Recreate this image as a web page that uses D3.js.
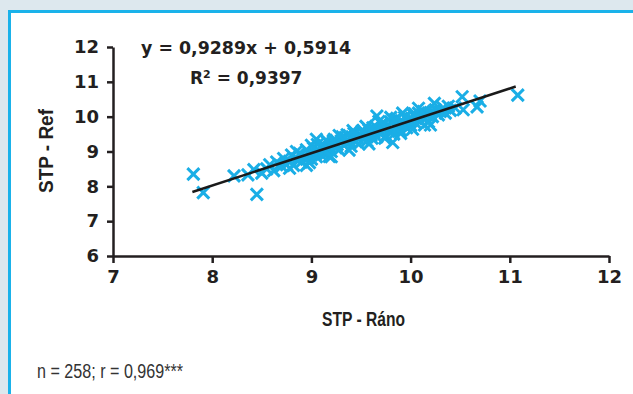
<!DOCTYPE html>
<html>
<head>
<meta charset="utf-8">
<script src="https://cdn.jsdelivr.net/npm/d3@7"></script>
<style>
  html, body { margin: 0; padding: 0; background: #dde8ee; }
  svg { display: block; }
</style>
</head>
<body>
<div id="app"></div>
<script>
// STP - Ráno (x) vs STP - Ref (y)
const ranoValues = [
  7.81, 7.91, 8.22, 8.36, 8.45, 8.42, 8.50,
  8.55, 8.58, 8.62, 8.65, 8.70, 8.72, 8.75, 8.78, 8.80, 8.82, 8.85, 8.88, 8.90, 8.92,
  8.95, 8.96, 8.98, 9.00, 9.02, 9.03, 9.05, 9.06, 9.08, 9.10, 9.11, 9.13, 9.15, 9.16,
  9.18, 9.20, 9.21, 9.23, 9.25, 9.26, 9.28, 9.30, 9.31, 9.33, 9.35, 9.36, 9.38, 9.40,
  9.41, 9.43, 9.45, 9.46, 9.48, 9.50, 9.51, 9.53, 9.55, 9.56, 9.58, 9.60, 9.61, 9.63,
  9.65, 9.66, 9.68, 9.70, 9.71, 9.73, 9.75, 9.76, 9.78, 9.80, 9.81, 9.83, 9.85, 9.86,
  9.88, 9.90, 9.91, 9.93, 9.95, 9.96, 9.98, 10.00, 10.01, 10.03, 10.05, 10.06, 10.08,
  10.10, 10.11, 10.13, 10.15, 10.16, 10.18, 10.20, 10.22, 10.25, 10.28, 10.30, 10.33,
  10.35, 10.38, 10.40, 10.45,
  9.12, 9.22, 9.34, 9.44, 9.52, 9.62, 9.72, 9.84, 9.94, 10.04,
  8.85, 9.00, 9.15, 9.28, 9.42, 9.55, 9.68, 9.80, 9.92, 10.08, 10.24,
  8.78, 8.98, 9.18, 9.38, 9.58, 9.74, 9.90, 10.02, 10.14,
  9.05, 8.95, 9.20, 9.66, 9.82, 10.20, 10.52, 10.53, 10.67, 10.70, 11.08
];
const refValues = [
  8.35, 7.82, 8.30, 8.33, 7.77, 8.48, 8.38,
  8.50, 8.62, 8.45, 8.70, 8.58, 8.80, 8.62, 8.72, 8.90, 8.60, 8.78, 8.95, 8.70, 8.85,
  9.05, 8.80, 8.92, 8.78, 9.10, 8.95, 8.85, 9.20, 9.02, 8.90, 9.15, 9.05, 8.95, 9.28,
  9.12, 9.00, 9.22, 9.35, 9.10, 9.20, 9.05, 9.30, 9.42, 9.18, 9.25, 9.48, 9.30, 9.15,
  9.38, 9.52, 9.28, 9.40, 9.22, 9.45, 9.58, 9.35, 9.50, 9.30, 9.62, 9.45, 9.38, 9.55,
  9.70, 9.42, 9.60, 9.50, 9.80, 9.62, 9.45, 9.70, 9.58, 9.85, 9.66, 9.50, 9.78, 9.95,
  9.70, 9.60, 9.88, 9.76, 10.00, 9.68, 9.85, 9.75, 9.95, 10.05, 9.82, 9.95, 10.10,
  9.88, 10.00, 10.15, 9.95, 10.05, 9.85, 10.12, 10.00, 10.20, 10.05, 10.15, 10.25,
  10.10, 10.30, 10.18, 10.25,
  9.20, 9.30, 9.40, 9.52, 9.60, 9.68, 9.78, 9.90, 9.98, 10.08,
  9.00, 9.18, 9.32, 9.46, 9.60, 9.72, 9.86, 9.98, 10.10, 10.24, 10.38,
  8.52, 8.68, 8.86, 9.04, 9.22, 9.38, 9.52, 9.64, 9.76,
  9.35, 8.60, 8.85, 10.02, 9.26, 9.76, 10.57, 10.20, 10.28, 10.45, 10.62
];
const xTicks = [7, 8, 9, 10, 11, 12];
const yTicks = [6, 7, 8, 9, 10, 11, 12];
const slope = 0.9289, intercept = 0.5914;
const fitRange = [7.8, 11.06];

const W = 633, H = 394;
const svg = d3.select("#app").append("svg")
    .attr("width", W)
    .attr("height", H);

// frame
svg.append("rect").attr("width", W).attr("height", H).attr("fill", "#dde8ee");
svg.append("rect").attr("x", 8).attr("y", 10).attr("width", W - 8).attr("height", H - 10)
    .attr("fill", "#1ab2ea");
svg.append("rect").attr("x", 11).attr("y", 13).attr("width", W - 11).attr("height", H - 13)
    .attr("fill", "#fff");

const x = d3.scaleLinear().domain([7, 12]).range([113, 609]);
const y = d3.scaleLinear().domain([6, 12]).range([256, 47]);

const axisFont = "'DejaVu Sans', sans-serif";

const gx = svg.append("g")
    .attr("transform", `translate(0,${y(6)})`)
    .call(d3.axisBottom(x).tickValues(xTicks).tickFormat(d3.format("d"))
      .tickSize(7).tickSizeOuter(0).tickPadding(7));
const gy = svg.append("g")
    .attr("transform", `translate(${x(7)},0)`)
    .call(d3.axisLeft(y).tickValues(yTicks).tickFormat(d3.format("d"))
      .tickSize(6).tickSizeOuter(0).tickPadding(8));

for (const g of [gx, gy]) {
  g.select(".domain").attr("stroke", "#231f20").attr("stroke-width", 2.5);
  g.selectAll(".tick line").attr("stroke", "#231f20").attr("stroke-width", 2.5);
  g.selectAll(".tick text")
      .attr("fill", "#231f20")
      .style("font-family", axisFont)
      .style("font-weight", "bold")
      .style("font-size", "18px");
}

// points
const pts = ranoValues.map((v, i) => [v, refValues[i]]);
svg.append("g")
    .attr("stroke", "#1aaee6")
    .attr("stroke-width", 3)
    .attr("fill", "none")
  .selectAll("path")
  .data(pts)
  .join("path")
    .attr("d", "M-6,-6L6,6M-6,6L6,-6")
    .attr("transform", d => `translate(${x(d[0])},${y(d[1])})`);

// regression line
svg.append("line")
    .attr("x1", x(fitRange[0]))
    .attr("y1", y(slope * fitRange[0] + intercept))
    .attr("x2", x(fitRange[1]))
    .attr("y2", y(slope * fitRange[1] + intercept))
    .attr("stroke", "#1a1a1a")
    .attr("stroke-width", 2.5);

// labels
const bold = (t, size) => t.attr("fill", "#231f20")
    .style("font-family", axisFont)
    .style("font-weight", "bold")
    .style("font-size", (size || 17) + "px");
const titleFont = t => t.attr("fill", "#231f20")
    .style("font-family", "'Liberation Sans', Arial, sans-serif")
    .style("font-weight", "bold")
    .style("font-size", "21px");

svg.append("text").attr("x", 141).attr("y", 54)
    .attr("textLength", 210).attr("lengthAdjust", "spacingAndGlyphs")
    .text("y = 0,9289x + 0,5914").call(bold);
const r2 = svg.append("text").attr("x", 190).attr("y", 84).call(bold);
r2.append("tspan").text("R");
r2.append("tspan").attr("dy", -6).style("font-size", "11px").text("2");
r2.append("tspan").attr("dy", 6).text(" = 0,9397");

svg.append("text").attr("x", 322).attr("y", 326)
    .attr("textLength", 83).attr("lengthAdjust", "spacingAndGlyphs")
    .text("STP - Ráno").call(titleFont);
svg.append("text").attr("transform", "translate(53,193) rotate(-90)")
    .attr("textLength", 84).attr("lengthAdjust", "spacingAndGlyphs")
    .text("STP - Ref").call(titleFont);

svg.append("text").attr("x", 37).attr("y", 378)
    .attr("fill", "#333")
    .attr("textLength", 146).attr("lengthAdjust", "spacingAndGlyphs")
    .style("font-family", "'Liberation Sans Narrow', 'Arial Narrow', sans-serif")
    .style("font-size", "20px")
    .text("n = 258; r = 0,969***");
</script>
</body>
</html>
